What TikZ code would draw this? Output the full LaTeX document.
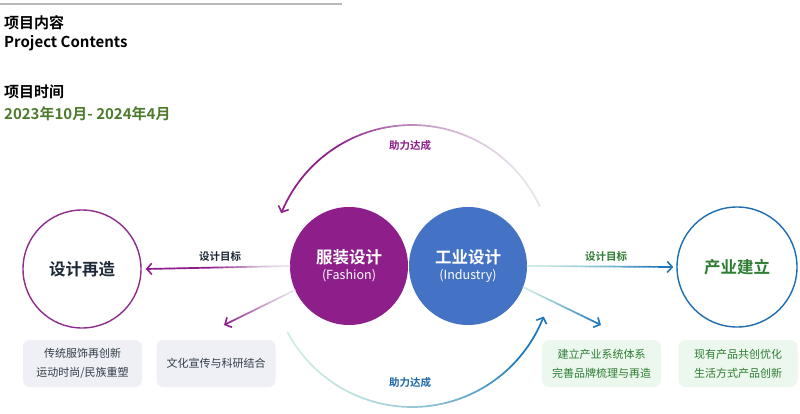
\documentclass[tikz,border=0pt]{standalone}
\usepackage{fontspec}
\setmainfont{Noto Sans CJK SC}[BoldFont={Noto Sans CJK SC Bold}]
\usetikzlibrary{arrows.meta,calc}
\definecolor{fashion}{RGB}{142,30,138}
\definecolor{indblue}{RGB}{68,114,196}
\definecolor{remakeline}{RGB}{140,45,140}
\definecolor{buildline}{RGB}{31,109,176}
\definecolor{arrblue}{RGB}{30,120,185}
\definecolor{mint}{RGB}{205,236,228}
\definecolor{fadegray}{RGB}{232,228,234}
\definecolor{darktext}{RGB}{30,42,56}
\definecolor{boxtext}{RGB}{50,60,72}
\definecolor{greentext}{RGB}{46,125,50}
\definecolor{datagreen}{RGB}{78,124,46}
\definecolor{graybox}{RGB}{238,240,245}
\definecolor{greenbox}{RGB}{236,247,238}
\definecolor{lblblue}{RGB}{31,105,170}
\begin{document}
\begin{tikzpicture}[x=1pt,y=1pt,
  head/.style={anchor=base west,font=\bfseries\fontsize{15}{18}\selectfont,text=black,inner sep=0},
  bigcirc/.style={circle,minimum size=118pt,inner sep=0,align=center},
  lbl/.style={font=\bfseries\fontsize{10.5}{12}\selectfont,inner sep=0},
  infobox/.style={rounded corners=7pt,minimum width=119pt,minimum height=47pt,inner sep=0,align=center,font=\fontsize{11}{19}\selectfont},
  tip/.style={-{Straight Barb[length=5pt,width=11pt,line width=1.6pt]}},
  seg/.style={line width=1.7pt,line cap=round}]
\useasboundingbox (0,0) rectangle (800,-414);
\fill[white] (0,0) rectangle (800,-414);
% top rule
\draw[gray!55,line width=1.3pt] (0,-4) -- (342,-4);
% headings
\node[head] (h1) at (4,-29) {项目内容};
\node[head] (h2) at (4,-48) {Project Contents};
\node[head] (h3) at (4,-98) {项目时间};
\node[head,text=datagreen] (h4) at (4,-120) {2023年10月- 2024年4月};
% big guide circle centre
\coordinate (C) at (412,-266);
% upper arc (purple, fading to the right)
\foreach \a in {25,27,...,153}{
  \pgfmathtruncatemacro\p{min(100,100*((\a-25)/95)^2)}
  \draw[seg,color=fashion!\p!fadegray] ($(C)+(\a:141)$) arc[start angle=\a,delta angle=2,radius=141];
}
\draw[seg,tip,color=fashion] ($(C)+(155:141)$) arc[start angle=155,end angle=158,radius=141];
% lower arc (blue, fading to the left)
\foreach \a in {-152,-150,...,-26}{
  \pgfmathtruncatemacro\p{min(100,100*((\a+152)/110)^2)}
  \draw[seg,color=arrblue!\p!mint] ($(C)+(\a:141)$) arc[start angle=\a,delta angle=2,radius=141];
}
\draw[seg,tip,color=arrblue] ($(C)+(-24:141)$) arc[start angle=-24,end angle=-21,radius=141];
% main circles
\node[bigcirc,fill=fashion,text=white] (fa) at (349,-266)
  {{\bfseries\fontsize{16.5}{18}\selectfont 服装设计}\\[4pt]{\fontsize{12.5}{14}\selectfont (Fashion)}};
\node[bigcirc,fill=indblue,text=white] (in) at (468,-266)
  {{\bfseries\fontsize{16.5}{18}\selectfont 工业设计}\\[4pt]{\fontsize{12.5}{14}\selectfont (Industry)}};
\node[bigcirc,draw=remakeline,line width=1.4pt,text=darktext,font=\bfseries\fontsize{16.5}{18}\selectfont] (re) at (82,-269) {设计再造};
\node[bigcirc,minimum size=120pt,draw=buildline,line width=1.4pt,text=greentext,font=\bfseries\fontsize{16.5}{18}\selectfont] (bu) at (737,-267) {产业建立};
% free ends of straight and diagonal arrows
\coordinate (el) at ([xshift=4pt]re.east);
\coordinate (er) at ([xshift=-3pt]bu.west);
\coordinate (dl) at (224,-325);
\coordinate (dr) at (601,-325);
% left straight arrow
\foreach \i in {0,...,28}{
  \pgfmathtruncatemacro\p{min(100,100*(\i/16)^1.5)}
  \pgfmathsetmacro\ta{\i/30}
  \pgfmathsetmacro\tb{(\i+1)/30}
  \draw[seg,color=fashion!\p!fadegray] ($(fa.west)!\ta!(el)$) -- ($(fa.west)!\tb!(el)$);
}
\draw[seg,tip,color=fashion] ($(fa.west)!0.966!(el)$) -- (el);
% left diagonal arrow
\foreach \i in {0,...,18}{
  \pgfmathtruncatemacro\p{min(100,100*(\i/19)^1.3)}
  \pgfmathsetmacro\ta{\i/20}
  \pgfmathsetmacro\tb{(\i+1)/20}
  \draw[seg,color=fashion!\p!fadegray] ($(fa.204)!\ta!(dl)$) -- ($(fa.204)!\tb!(dl)$);
}
\draw[seg,tip,color=fashion] ($(fa.204)!0.95!(dl)$) -- (dl);
% right straight arrow
\foreach \i in {0,...,28}{
  \pgfmathtruncatemacro\p{min(100,100*(\i/27)^1.5)}
  \pgfmathsetmacro\ta{\i/30}
  \pgfmathsetmacro\tb{(\i+1)/30}
  \draw[seg,color=arrblue!\p!mint] ($(in.east)!\ta!(er)$) -- ($(in.east)!\tb!(er)$);
}
\draw[seg,tip,color=arrblue] ($(in.east)!0.966!(er)$) -- (er);
% right diagonal arrow
\foreach \i in {0,...,18}{
  \pgfmathtruncatemacro\p{min(100,100*(\i/19)^1.3)}
  \pgfmathsetmacro\ta{\i/20}
  \pgfmathsetmacro\tb{(\i+1)/20}
  \draw[seg,color=arrblue!\p!mint] ($(in.339)!\ta!(dr)$) -- ($(in.339)!\tb!(dr)$);
}
\draw[seg,tip,color=arrblue] ($(in.339)!0.95!(dr)$) -- (dr);
% labels
\node[lbl,text=darktext] (l1) at (220,-257) {设计目标};
\node[lbl,text=greentext] (l2) at (606,-257) {设计目标};
\node[lbl,text=fashion] (l3) at (410,-146) {助力达成};
\node[lbl,text=lblblue] (l4) at (410,-383) {助力达成};
% boxes
\node[infobox,fill=graybox,text=boxtext] (b1) at (82.5,-363.5) {传统服饰再创新\\运动时尚/民族重塑};
\node[infobox,fill=graybox,text=boxtext] (b2) at (216,-363.5) {文化宣传与科研结合};
\node[infobox,fill=greenbox,text=greentext] (b3) at (601.5,-363.5) {建立产业系统体系\\完善品牌梳理与再造};
\node[infobox,fill=greenbox,text=greentext] (b4) at (738,-363.5) {现有产品共创优化\\生活方式产品创新};
\end{tikzpicture}
\end{document}
